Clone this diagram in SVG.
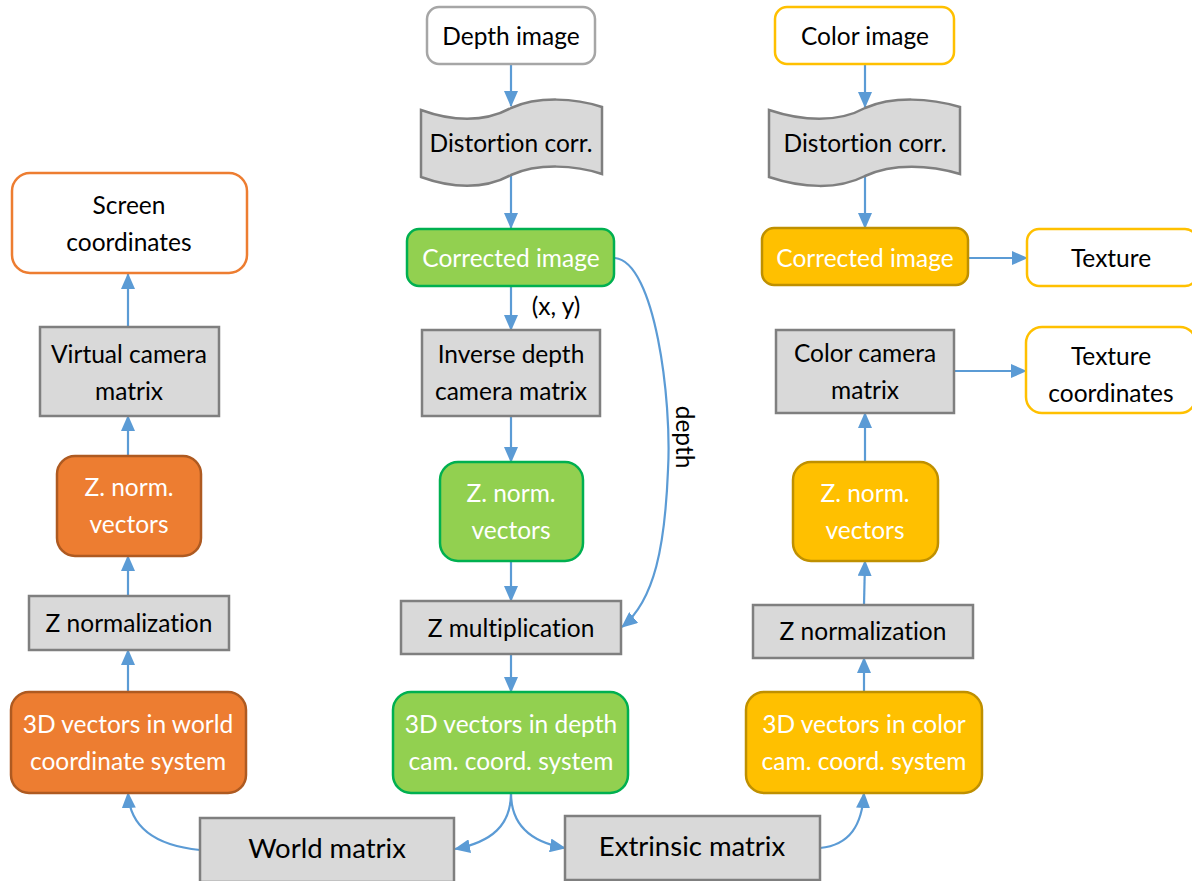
<svg xmlns="http://www.w3.org/2000/svg" width="1192" height="881" viewBox="0 0 1192 881">
<style>
text{font-family:Lato,"Open Sans","Liberation Sans",sans-serif;font-size:24.5px;text-anchor:middle;fill:#000;font-variant-ligatures:none}
.w{fill:#fff}
.big{font-size:27.5px}
.gray{fill:#d9d9d9;stroke:#7f7f7f;stroke-width:2.5}
.wb{fill:#fff;stroke:#a6a6a6;stroke-width:2.5}
.wo{fill:#fff;stroke:#ed7d31;stroke-width:2.5}
.wy{fill:#fff;stroke:#ffc000;stroke-width:2.5}
.or{fill:#ed7d31;stroke:#ae5a21;stroke-width:2.5}
.gr{fill:#92d050;stroke:#00b050;stroke-width:2.5}
.ye{fill:#ffc000;stroke:#bf9000;stroke-width:2.5}
.c{fill:none;stroke:#5b9bd5;stroke-width:2.2;marker-end:url(#ah)}
</style>
<defs>
<marker id="ah" markerUnits="userSpaceOnUse" markerWidth="16" markerHeight="14" refX="15" refY="7" orient="auto">
<path d="M0,0 L16,7 L0,14 Z" fill="#5b9bd5"/>
</marker>
</defs>
<rect width="1192" height="881" fill="#fff"/>
<g id="connectors">
<path class="c" d="M511,64 V106"/>
<path class="c" d="M511,175 V228"/>
<path class="c" d="M511,286 V330"/>
<path class="c" d="M511,416 V462"/>
<path class="c" d="M511,561 V601"/>
<path class="c" d="M511,654 V692"/>
<path class="c" d="M615,258 C655,262 672,400 668,470 C665,545 655,600 622,627"/>
<path class="c" d="M511,793 C511,825 492,842 455,849"/>
<path class="c" d="M511,793 C511,825 530,842 565,848"/>
<path class="c" d="M200,850 C160,846 130,830 128,793"/>
<path class="c" d="M820,848 C850,845 862,825 864,793"/>
<path class="c" d="M128,692 V650"/>
<path class="c" d="M128,596 V556"/>
<path class="c" d="M128,456 V416"/>
<path class="c" d="M128,327 V274"/>
<path class="c" d="M864,692 V658"/>
<path class="c" d="M864,605 L865,561"/>
<path class="c" d="M865,462 V413"/>
<path class="c" d="M954,371 H1026"/>
<path class="c" d="M865,64 V107"/>
<path class="c" d="M865,176 V228"/>
<path class="c" d="M968,258 H1027"/>
<text x="556" y="315">(x, y)</text>
<text transform="translate(676,437) rotate(90)">depth</text>
</g>
<g id="depth-image"><rect class="wb" x="427" y="7" width="168" height="57" rx="12"/><text x="511" y="45">Depth image</text></g>
<g id="depth-distortion"><path class="gray" d="M421,110 C451,121 484,123 511,108 C538,96 575,98 602,107 L602,174 C575,165 538,163 511,175 C484,190 451,188 421,177 Z"/><text x="511" y="152">Distortion corr.</text></g>
<g id="depth-corrected"><rect class="gr" x="407" y="229" width="207" height="57" rx="12"/><text class="w" x="511" y="267">Corrected image</text></g>
<g id="inverse-depth"><rect class="gray" x="422" y="330" width="178" height="86"/><text x="511" y="363">Inverse depth</text><text x="511" y="400">camera matrix</text></g>
<g id="depth-znorm"><rect class="gr" x="440" y="462" width="143" height="99" rx="18"/><text class="w" x="511" y="502">Z. norm.</text><text class="w" x="511" y="539">vectors</text></g>
<g id="z-mult"><rect class="gray" x="401" y="601" width="220" height="53"/><text x="511" y="637">Z multiplication</text></g>
<g id="depth-3d"><rect class="gr" x="393" y="692" width="235" height="101" rx="18"/><text class="w" x="511" y="733">3D vectors in depth</text><text class="w" x="511" y="770">cam. coord. system</text></g>
<g id="world-matrix"><rect class="gray" x="200" y="818" width="254" height="64"/><text class="big" x="327" y="858">World matrix</text></g>
<g id="extrinsic-matrix"><rect class="gray" x="565" y="816" width="255" height="64"/><text class="big" x="692" y="856">Extrinsic matrix</text></g>
<g id="screen-coords"><rect class="wo" x="12" y="173" width="235" height="100" rx="18"/><text x="129" y="214">Screen</text><text x="129" y="251">coordinates</text></g>
<g id="virtual-camera"><rect class="gray" x="40" y="327" width="179" height="89"/><text x="129" y="363">Virtual camera</text><text x="129" y="400">matrix</text></g>
<g id="world-znorm"><rect class="or" x="57" y="456" width="144" height="100" rx="18"/><text class="w" x="129" y="496">Z. norm.</text><text class="w" x="129" y="533">vectors</text></g>
<g id="world-znormalization"><rect class="gray" x="29" y="596" width="200" height="54"/><text x="129" y="632">Z normalization</text></g>
<g id="world-3d"><rect class="or" x="11" y="692" width="235" height="101" rx="18"/><text class="w" x="128" y="733">3D vectors in world</text><text class="w" x="128" y="770">coordinate system</text></g>
<g id="color-image"><rect class="wy" x="775" y="7" width="179" height="57" rx="12"/><text x="865" y="45">Color image</text></g>
<g id="color-distortion"><path class="gray" d="M769,110 C802,121 838,123 865,108 C893,96 930,98 960,107 L960,174 C930,165 893,163 865,176 C838,190 802,188 769,177 Z"/><text x="865" y="152">Distortion corr.</text></g>
<g id="color-corrected"><rect class="ye" x="762" y="228" width="206" height="57" rx="12"/><text class="w" x="865" y="267">Corrected image</text></g>
<g id="texture"><rect class="wy" x="1027" y="229" width="170" height="57" rx="12"/><text x="1111" y="267">Texture</text></g>
<g id="color-camera"><rect class="gray" x="776" y="330" width="178" height="83"/><text x="865" y="362">Color camera</text><text x="865" y="399">matrix</text></g>
<g id="texture-coords"><rect class="wy" x="1026" y="327" width="170" height="86" rx="16"/><text x="1111" y="365">Texture</text><text x="1111" y="402">coordinates</text></g>
<g id="color-znorm"><rect class="ye" x="793" y="462" width="145" height="99" rx="18"/><text class="w" x="865" y="502">Z. norm.</text><text class="w" x="865" y="539">vectors</text></g>
<g id="color-znormalization"><rect class="gray" x="753" y="605" width="220" height="53"/><text x="863" y="640">Z normalization</text></g>
<g id="color-3d"><rect class="ye" x="746" y="692" width="236" height="101" rx="18"/><text class="w" x="864" y="733">3D vectors in color</text><text class="w" x="864" y="770">cam. coord. system</text></g>
</svg>
